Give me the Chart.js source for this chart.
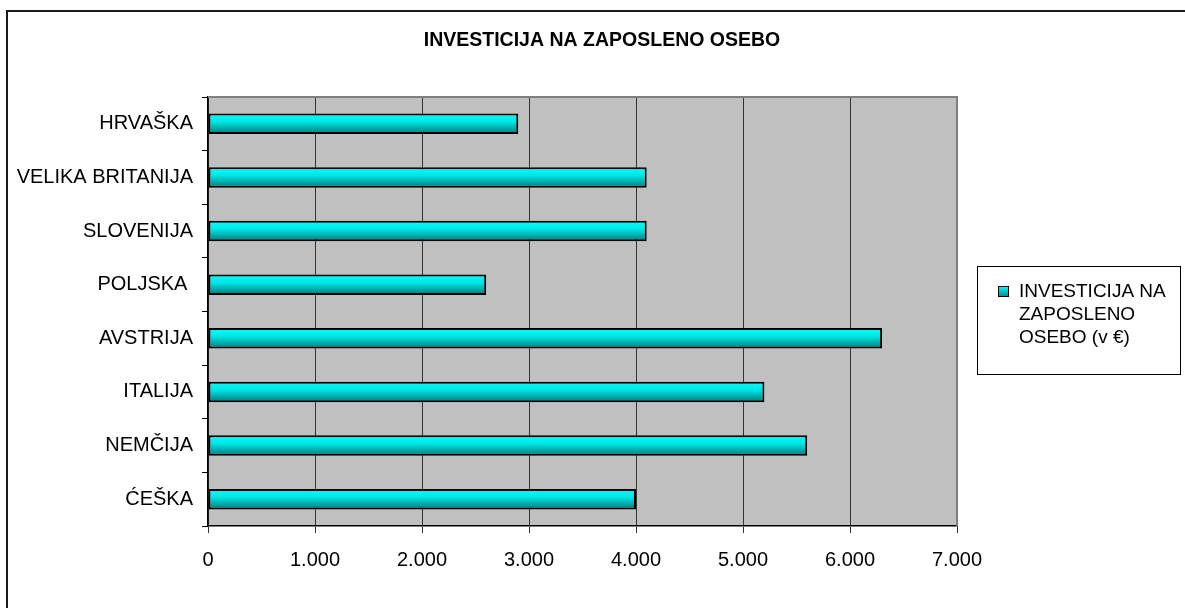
<!DOCTYPE html>
<html><head><meta charset="utf-8">
<script src="https://cdn.jsdelivr.net/npm/chart.js@4.4.0/dist/chart.umd.min.js"></script>
<style>html,body{margin:0;padding:0;background:#fff;}canvas{display:block;}</style>
</head><body>
<canvas id="c" width="1185" height="608"></canvas>
<script>
const chartTitle = 'INVESTICIJA NA ZAPOSLENO OSEBO';
const seriesLabel = 'INVESTICIJA NA ZAPOSLENO OSEBO (v €)';
const categories = ['HRVAŠKA', 'VELIKA BRITANIJA', 'SLOVENIJA', 'POLJSKA ', 'AVSTRIJA', 'ITALIJA', 'NEMČIJA', 'ĆEŠKA'];
const investment = [2900, 4100, 4100, 2600, 6300, 5200, 5600, 4000];
const xMin = 0, xMax = 7000, xStep = 1000;

const FONT = '"Liberation Sans", Arial, sans-serif';
const BAR_PCT = 0.38;

function fmt(v) { return String(v).replace(/\B(?=(\d{3})+(?!\d))/g, '.'); }

const decor = {
  id: 'decor',
  beforeDraw(chart) {
    const { ctx, chartArea: a } = chart;
    ctx.save();
    ctx.fillStyle = '#fff';
    ctx.fillRect(0, 0, chart.width, chart.height);
    ctx.fillStyle = '#c0c0c0';
    ctx.fillRect(a.left, a.top, a.right - a.left, a.bottom - a.top);
    // outer frame
    ctx.strokeStyle = '#1a1a1a';
    ctx.lineWidth = 2;
    ctx.strokeRect(7, 11, 1400, 800);
    // title
    ctx.fillStyle = '#000';
    ctx.font = 'bold 19.5px ' + FONT;
    ctx.textAlign = 'center';
    ctx.textBaseline = 'middle';
    ctx.fillText(chartTitle, 602, 41);
    ctx.restore();
  },
  beforeDatasetsDraw(chart) {
    const { ctx, chartArea: a } = chart;
    ctx.save();
    ctx.strokeStyle = '#808080';
    ctx.lineWidth = 2;
    ctx.beginPath();
    ctx.moveTo(a.left, a.top);
    ctx.lineTo(a.right, a.top);
    ctx.lineTo(a.right, a.bottom);
    ctx.stroke();
    ctx.restore();
  },
  afterDraw(chart) {
    const ctx = chart.ctx;
    ctx.save();
    // legend box
    ctx.strokeStyle = '#000';
    ctx.lineWidth = 1;
    ctx.strokeRect(977.5, 266.5, 203, 108);
    // marker
    const g = ctx.createLinearGradient(0, 286, 0, 297);
    g.addColorStop(0, '#00ffff'); g.addColorStop(1, '#008a8a');
    ctx.fillStyle = g;
    ctx.fillRect(998, 286, 10, 10);
    ctx.strokeRect(998.5, 286.5, 10, 10);
    // wrapped text
    ctx.fillStyle = '#000';
    ctx.font = '19px ' + FONT;
    ctx.textAlign = 'left';
    ctx.textBaseline = 'middle';
    const label = chart.data.datasets[0].label;
    const words = label.split(' ');
    const lines = [];
    let cur = '';
    for (const w of words) {
      const t = cur ? cur + ' ' + w : w;
      if (cur && ctx.measureText(t).width > 160) { lines.push(cur); cur = w; } else cur = t;
    }
    if (cur) lines.push(cur);
    lines.forEach((l, i) => ctx.fillText(l, 1019, 292 + i * 23));
    ctx.restore();
  }
};

new Chart(document.getElementById('c'), {
  type: 'bar',
  data: {
    labels: categories,
    datasets: [{
      label: seriesLabel,
      data: investment,
      backgroundColor: (c) => {
        const chart = c.chart;
        const y = chart.scales && chart.scales.y;
        if (!y || c.dataIndex === undefined || !chart.chartArea) return '#00d8d8';
        const yc = y.getPixelForValue(c.dataIndex);
        const half = (y.bottom - y.top) / categories.length * BAR_PCT / 2;
        const g = chart.ctx.createLinearGradient(0, yc - half, 0, yc + half);
        g.addColorStop(0, '#00ffff');
        g.addColorStop(0.4, '#00e6e6');
        g.addColorStop(1, '#007878');
        return g;
      },
      borderColor: '#000',
      borderWidth: 2,
      borderSkipped: false,
      barPercentage: BAR_PCT,
      categoryPercentage: 1
    }]
  },
  options: {
    indexAxis: 'y',
    responsive: false,
    animation: false,
    devicePixelRatio: 1,
    layout: { padding: { left: 0, right: 228, top: 97, bottom: 32 } },
    plugins: { legend: { display: false }, title: { display: false }, tooltip: { enabled: false } },
    scales: {
      x: {
        min: xMin, max: xMax,
        ticks: { stepSize: xStep, color: '#000', padding: 15, maxRotation: 0, font: { family: FONT, size: 20 }, callback: (v) => fmt(v) },
        grid: { color: '#333', lineWidth: 1, tickLength: 7, drawOnChartArea: true },
        border: { color: '#000', width: 1.5 },
        afterFit: (s) => { s.height = 50; }
      },
      y: {
        ticks: { color: '#000', padding: 9, font: { family: FONT, size: 20 } },
        grid: { color: '#000', offset: true, drawOnChartArea: false, tickLength: 6 },
        border: { color: '#000', width: 1.5 },
        afterFit: (s) => { s.width = 208; }
      }
    }
  },
  plugins: [decor]
});
</script>
</body></html>
